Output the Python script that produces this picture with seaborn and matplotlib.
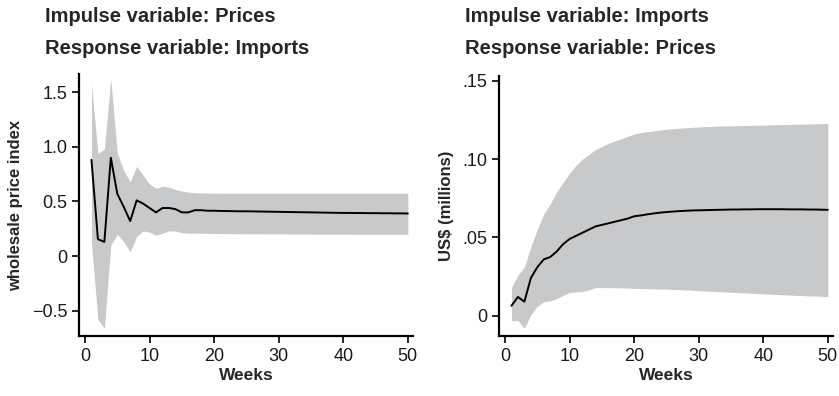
import numpy as np
import pandas as pd
import seaborn as sns
import matplotlib.pyplot as plt

# Impulse response data (weeks 1..50)
weeks = list(range(1, 51))

# Left panel: impulse Prices -> response Imports
left_resp = [0.88, 0.155, 0.13, 0.90, 0.57, 0.45, 0.32, 0.51, 0.48, 0.44,
             0.40, 0.44, 0.44, 0.43, 0.40, 0.40, 0.42, 0.42, 0.415, 0.415,
             0.413, 0.412, 0.411, 0.41, 0.41, 0.409, 0.408, 0.407, 0.406, 0.405,
             0.404, 0.403, 0.402, 0.401, 0.40, 0.399, 0.398, 0.397, 0.396, 0.395,
             0.395, 0.394, 0.394, 0.393, 0.393, 0.392, 0.392, 0.391, 0.391, 0.39]
left_upper = [1.57, 0.94, 0.98, 1.62, 0.94, 0.78, 0.68, 0.82, 0.74, 0.66,
              0.62, 0.64, 0.63, 0.61, 0.595, 0.585, 0.58, 0.578, 0.577, 0.576,
              0.575, 0.575, 0.575, 0.575, 0.575, 0.575, 0.575, 0.575, 0.575, 0.575,
              0.575, 0.575, 0.575, 0.575, 0.575, 0.575, 0.575, 0.575, 0.575, 0.575,
              0.575, 0.575, 0.575, 0.575, 0.575, 0.575, 0.575, 0.575, 0.575, 0.575]
left_lower = [0.12, -0.58, -0.66, 0.10, 0.20, 0.13, 0.04, 0.18, 0.23, 0.22,
              0.19, 0.21, 0.23, 0.23, 0.215, 0.21, 0.21, 0.21, 0.208, 0.207,
              0.206, 0.205, 0.205, 0.205, 0.204, 0.204, 0.204, 0.203, 0.203, 0.203,
              0.203, 0.202, 0.202, 0.202, 0.202, 0.201, 0.201, 0.201, 0.201, 0.201,
              0.200, 0.200, 0.200, 0.200, 0.200, 0.200, 0.200, 0.200, 0.200, 0.200]

# Right panel: impulse Imports -> response Prices
right_resp = [0.0064, 0.012, 0.009, 0.024, 0.031, 0.036, 0.0375, 0.041, 0.0457, 0.049,
              0.051, 0.053, 0.055, 0.057, 0.058, 0.059, 0.060, 0.061, 0.062, 0.0635,
              0.064, 0.0647, 0.0653, 0.0658, 0.0662, 0.0665, 0.0668, 0.067, 0.0672, 0.0673,
              0.0674, 0.0675, 0.0676, 0.0677, 0.0678, 0.0678, 0.0679, 0.0679, 0.068, 0.068,
              0.068, 0.068, 0.068, 0.0679, 0.0679, 0.0679, 0.0678, 0.0678, 0.0677, 0.0676]
right_upper = [0.018, 0.026, 0.031, 0.044, 0.055, 0.065, 0.0714, 0.079, 0.085, 0.091,
               0.096, 0.100, 0.103, 0.106, 0.108, 0.110, 0.1115, 0.113, 0.1145, 0.116,
               0.1168, 0.1175, 0.118, 0.1185, 0.119, 0.1194, 0.1197, 0.12, 0.1202, 0.1205,
               0.1207, 0.1208, 0.121, 0.1211, 0.1212, 0.1213, 0.1214, 0.1215, 0.1216, 0.1217,
               0.1218, 0.1219, 0.122, 0.1221, 0.1222, 0.1223, 0.1224, 0.1225, 0.1226, 0.1228]
right_lower = [-0.003, -0.003, -0.008, 0.0006, 0.006, 0.009, 0.0095, 0.011, 0.013, 0.0148,
               0.0152, 0.0155, 0.0165, 0.018, 0.018, 0.018, 0.0179, 0.0178, 0.0177, 0.0175,
               0.0174, 0.0173, 0.0172, 0.0171, 0.017, 0.0168, 0.0167, 0.0165, 0.0163, 0.016,
               0.0158, 0.0156, 0.0154, 0.0152, 0.015, 0.0148, 0.0146, 0.0144, 0.0142, 0.014,
               0.0138, 0.0136, 0.0134, 0.0132, 0.013, 0.0129, 0.0127, 0.0126, 0.0124, 0.0123]

left_df = pd.DataFrame({"week": weeks, "resp": left_resp, "lo": left_lower, "hi": left_upper})
right_df = pd.DataFrame({"week": weeks, "resp": right_resp, "lo": right_lower, "hi": right_upper})

sns.set_style("ticks")
plt.rcParams["font.family"] = ["Liberation Sans Narrow", "Liberation Sans", "DejaVu Sans"]

fig = plt.figure(figsize=(8.39, 3.96), dpi=100)
ax1 = fig.add_axes([79 / 839, 60 / 396, 334 / 839, 262 / 396])
ax2 = fig.add_axes([499 / 839, 60 / 396, 334 / 839, 260 / 396])

band_color = "#c8c9cb"
tick_font = 13

panels = [
    (ax1, left_df, (-0.73, 1.665), [-0.5, 0, 0.5, 1.0, 1.5], ["\u22120.5", "0", "0.5", "1.0", "1.5"],
     "wholesale price index", "Impulse variable: Prices", "Response variable: Imports"),
    (ax2, right_df, (-0.0129, 0.153), [0, 0.05, 0.10, 0.15], ["0", ".05", ".10", ".15"],
     "US$ (millions)", "Impulse variable: Imports", "Response variable: Prices"),
]

for ax, df, ylim, yt, ytl, ylab, t1, t2 in panels:
    ax.fill_between(df["week"], df["lo"], df["hi"], color=band_color, linewidth=0)
    sns.lineplot(data=df, x="week", y="resp", ax=ax, color="black", linewidth=1.4)
    ax.set_xlim(-0.93, 50.8)
    ax.set_ylim(*ylim)
    ax.set_xticks([0, 10, 20, 30, 40, 50])
    ax.set_yticks(yt)
    ax.set_yticklabels(ytl)
    ax.tick_params(labelsize=tick_font, length=5, width=1.2, color="black", labelcolor="#1a1a1a")
    for s in ["left", "bottom"]:
        ax.spines[s].set_linewidth(1.6)
        ax.spines[s].set_color("black")
    sns.despine(ax=ax)
    ax.set_xlabel("Weeks", fontsize=12.5, fontweight="bold", labelpad=2)
    ax.set_ylabel(ylab, fontsize=12, fontweight="bold", labelpad=6)
    ax.patch.set_alpha(0)

    # Panel headings, left-aligned above each axes
    x0 = ax.get_position().x0 - 34 / 839
    fig.text(x0, 1 - 17 / 396, t1, fontsize=14.5, fontweight="bold",
             family=["Liberation Sans", "DejaVu Sans"], va="center")
    fig.text(x0, 1 - 48 / 396, t2, fontsize=14.5, fontweight="bold",
             family=["Liberation Sans", "DejaVu Sans"], va="center")

fig.savefig("out.png", dpi=100)
